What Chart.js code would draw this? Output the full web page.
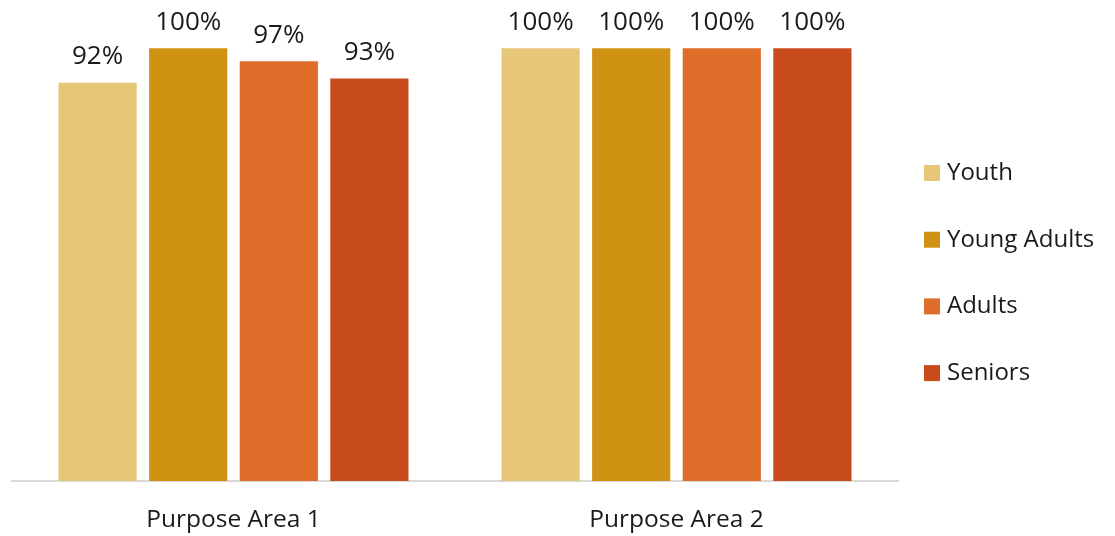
<!DOCTYPE html>
<html>
<head>
<meta charset="utf-8">
<script src="https://cdn.jsdelivr.net/npm/chart.js@4/dist/chart.umd.min.js"></script>
<style>
  html, body { margin: 0; padding: 0; background: #fff; }
  #wrap { width: 1115px; height: 536px; }
</style>
</head>
<body>
<div id="wrap"><canvas id="bars"></canvas></div>
<script>
const categories = ["Purpose Area 1", "Purpose Area 2"];
const youth = [0.92, 1.0];
const youngAdults = [1.0, 1.0];
const adults = [0.97, 1.0];
const seniors = [0.93, 1.0];

const FONT = "'Open Sans', sans-serif";
const TEXT = "#1a1a1a";

// percent labels above each bar
const barLabels = {
  id: "barLabels",
  afterDatasetsDraw(chart) {
    const ctx = chart.ctx;
    ctx.save();
    ctx.font = "26px " + FONT;
    ctx.fillStyle = TEXT;
    ctx.textAlign = "center";
    ctx.textBaseline = "middle";
    chart.data.datasets.forEach((ds, i) => {
      chart.getDatasetMeta(i).data.forEach((bar, j) => {
        ctx.fillText(Math.round(ds.data[j] * 100) + "%", bar.x, bar.y - 26);
      });
    });
    ctx.restore();
  }
};

// legend column on the right, one square swatch per series
const sideLegend = {
  id: "sideLegend",
  afterDraw(chart) {
    const ctx = chart.ctx;
    const x = chart.chartArea.right + 26;
    ctx.save();
    ctx.font = "24px " + FONT;
    ctx.textBaseline = "middle";
    chart.data.datasets.forEach((ds, i) => {
      const y = 173 + i * 66.7;
      ctx.fillStyle = ds.backgroundColor;
      ctx.fillRect(x, y - 8, 16, 16);
      ctx.fillStyle = TEXT;
      ctx.fillText(ds.label, x + 23, y);
    });
    ctx.restore();
  }
};

new Chart(document.getElementById("bars"), {
  type: "bar",
  data: {
    labels: categories,
    datasets: [
      { label: "Youth", backgroundColor: "#e6c677", data: youth },
      { label: "Young Adults", backgroundColor: "#cf9213", data: youngAdults },
      { label: "Adults", backgroundColor: "#e06c29", data: adults },
      { label: "Seniors", backgroundColor: "#c84b1c", data: seniors },
    ],
  },
  options: {
    responsive: true,
    maintainAspectRatio: false,
    animation: false,
    layout: { padding: { top: 8, left: 12, right: 217, bottom: 0 } },
    categoryPercentage: 0.818,
    barPercentage: 0.863,
    scales: {
      x: {
        grid: { display: false, drawTicks: false },
        border: { color: "#d9d9d9", width: 2 },
        ticks: { color: TEXT, font: { family: FONT, size: 24.5 }, padding: 24 },
        afterFit(scale) { scale.height = 55; },
      },
      y: { display: false, min: 0, max: 1.093 },
    },
    plugins: {
      tooltip: { enabled: false },
      legend: { display: false },
    },
  },
  plugins: [barLabels, sideLegend],
});
</script>
</body>
</html>
